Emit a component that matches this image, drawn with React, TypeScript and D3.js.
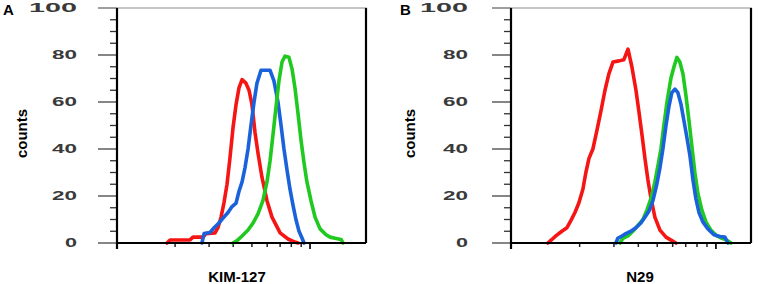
import React from "react";
import * as d3 from "d3";

// x values are log10 fluorescence intensity, y values are counts
const kimRed: [number, number][] = [
  [0.259, 0], [0.275, 1.3], [0.378, 1.3], [0.394, 2.5], [0.446, 2.5], [0.461, 4], [0.508, 4.3],
  [0.523, 6.5], [0.539, 11], [0.554, 17], [0.57, 25], [0.585, 36], [0.601, 49], [0.617, 59],
  [0.632, 66], [0.648, 69.5], [0.668, 68], [0.684, 65], [0.699, 59], [0.715, 47], [0.731, 38],
  [0.751, 28], [0.777, 18], [0.803, 11], [0.845, 4.3], [0.886, 1.7], [0.922, 0.4], [0.938, 0],
];
const kimBlue: [number, number][] = [
  [0.44, 0], [0.451, 4], [0.482, 4.5], [0.503, 6.5], [0.528, 8.5], [0.554, 11], [0.575, 13],
  [0.596, 15.5], [0.617, 17], [0.632, 22], [0.648, 26], [0.663, 32], [0.679, 40], [0.694, 50],
  [0.71, 60], [0.725, 68], [0.746, 73.5], [0.793, 73.5], [0.813, 69], [0.834, 60], [0.85, 50],
  [0.865, 40], [0.881, 31], [0.896, 23], [0.912, 16], [0.927, 10], [0.943, 5], [0.959, 2], [0.969, 0],
];
const kimGreen: [number, number][] = [
  [0.601, 0], [0.622, 1], [0.648, 3], [0.679, 5.5], [0.705, 8.5], [0.731, 12.5], [0.756, 18],
  [0.777, 26], [0.793, 35], [0.808, 46], [0.824, 58], [0.839, 69], [0.855, 77], [0.87, 79.5],
  [0.891, 79], [0.907, 74], [0.922, 66], [0.938, 55], [0.953, 44], [0.969, 34], [0.984, 26],
  [1.005, 18], [1.026, 11], [1.052, 6], [1.083, 3.5], [1.104, 2.5], [1.13, 2], [1.161, 1.5], [1.171, 0],
];

const n29Red: [number, number][] = [
  [0.138, 0], [0.159, 1.5], [0.179, 3], [0.21, 5], [0.236, 6.5], [0.256, 9.5], [0.277, 13],
  [0.297, 17], [0.318, 23], [0.333, 30], [0.349, 36], [0.369, 40], [0.39, 48], [0.41, 56],
  [0.431, 65], [0.451, 72], [0.472, 77], [0.503, 77.5], [0.528, 78], [0.549, 82.5], [0.569, 75],
  [0.59, 65], [0.605, 56], [0.621, 46], [0.636, 36], [0.651, 27], [0.667, 19], [0.687, 11],
  [0.713, 5.5], [0.744, 2.5], [0.774, 1], [0.795, 0],
];
const n29Blue: [number, number][] = [
  [0.487, 0], [0.497, 2], [0.518, 3], [0.538, 4], [0.564, 5], [0.59, 6.5], [0.615, 8.5],
  [0.636, 11], [0.656, 13.5], [0.677, 18], [0.697, 25], [0.713, 32], [0.728, 40], [0.744, 50],
  [0.759, 58], [0.774, 64], [0.79, 65.5], [0.805, 64], [0.821, 59], [0.836, 52], [0.851, 45],
  [0.867, 37], [0.882, 27], [0.897, 19], [0.913, 13], [0.933, 9], [0.959, 6], [0.99, 3.5],
  [1.021, 2.8], [1.046, 2.5], [1.062, 0],
];
const n29Green: [number, number][] = [
  [0.508, 0], [0.523, 2], [0.549, 3], [0.574, 5], [0.6, 7.5], [0.626, 10], [0.646, 14],
  [0.667, 19], [0.687, 26], [0.703, 33], [0.718, 40], [0.733, 50], [0.749, 60], [0.769, 70],
  [0.785, 75], [0.8, 79], [0.815, 77], [0.831, 72], [0.846, 63], [0.862, 52], [0.877, 41],
  [0.892, 30], [0.908, 21], [0.928, 14], [0.949, 9], [0.974, 5.5], [1.005, 3], [1.031, 2],
  [1.056, 1.2], [1.077, 0],
];

const yTicks = [0, 20, 40, 60, 80, 100];
const yTickLabels = ["0", "20", "40", "60", "80", "100"];
const yMinorTicks = d3.range(0, 101, 5).filter((v) => v % 20 !== 0);
const xMinorTicks = [2, 3, 4, 5, 6, 7, 8, 9].map((k) => Math.log10(k));
const xMajorTicks = [1];

const RED = "#f51515";
const GREEN = "#20c920";
const BLUE = "#1a62dc";

type Series = { data: [number, number][]; color: string };

interface PanelProps {
  letter: string;
  title: string;
  left: number;
  right: number;
  top: number;
  bottom: number;
  xDomain: [number, number];
  series: Series[];
  letterX: number;
  labelEnd: number;
  countsX: number;
  titleX: number;
}

const labelWidth = (s: string) => (s.length === 1 ? 12 : s.length === 2 ? 25 : 48);

function Panel(p: PanelProps) {
  const x = d3.scaleLinear().domain(p.xDomain).range([p.left, p.right]);
  const y = d3.scaleLinear().domain([0, 100]).range([p.bottom, p.top]);
  const line = d3
    .line<[number, number]>()
    .x((d) => x(d[0]))
    .y((d) => y(d[1]));
  const font = "'Liberation Sans', Arial, sans-serif";
  return (
    <g>
      <text x={p.letterX} y={15} fontFamily={font} fontWeight="bold" fontSize={15} fill="#000">
        {p.letter}
      </text>
      {/* top frame (gray) */}
      <line x1={p.left - 19} x2={p.right + 1} y1={p.top} y2={p.top} stroke="#8a8a8a" strokeWidth={1.2} />
      {/* y major ticks */}
      {yTicks.map((v) => (
        <line
          key={"ym" + v}
          x1={p.left - 19}
          x2={p.left}
          y1={y(v)}
          y2={y(v)}
          stroke={v === 100 ? "#8a8a8a" : "#444"}
          strokeWidth={1.3}
        />
      ))}
      {yMinorTicks.map((v) => (
        <line key={"yn" + v} x1={p.left - 7} x2={p.left} y1={y(v)} y2={y(v)} stroke="#333" strokeWidth={1.3} />
      ))}
      {yTicks.map((v, i) => (
        <text
          key={"yl" + v}
          x={p.labelEnd}
          y={y(v)}
          dy="0.36em"
          textAnchor="end"
          fontFamily={font}
          fontWeight="bold"
          fontSize={12}
          fill="#3a3a3a"
          textLength={labelWidth(yTickLabels[i])}
          lengthAdjust="spacingAndGlyphs"
        >
          {yTickLabels[i]}
        </text>
      ))}
      <text
        transform={`translate(${p.countsX},${(p.top + p.bottom) / 2 + 8}) rotate(-90)`}
        textAnchor="middle"
        fontFamily={font}
        fontWeight="bold"
        fontSize={15}
        fill="#000"
      >
        counts
      </text>
      {/* x ticks */}
      {xMinorTicks.map((v, i) => (
        <line key={"xn" + i} x1={x(v)} x2={x(v)} y1={p.bottom} y2={p.bottom + 4} stroke="#222" strokeWidth={1.5} />
      ))}
      {xMajorTicks.map((v, i) => (
        <line key={"xm" + i} x1={x(v)} x2={x(v)} y1={p.bottom} y2={p.bottom + 6} stroke="#111" strokeWidth={1.8} />
      ))}
      {/* curves */}
      {p.series.map((s, i) => (
        <path
          key={"s" + i}
          d={line(s.data) || ""}
          fill="none"
          stroke={s.color}
          strokeWidth={3.6}
          strokeLinejoin="round"
          strokeLinecap="round"
        />
      ))}
      {/* axes */}
      <line x1={p.left} x2={p.right} y1={p.bottom} y2={p.bottom} stroke="#000" strokeWidth={2} />
      <line x1={p.left} x2={p.left} y1={p.top} y2={p.bottom + 6} stroke="#000" strokeWidth={2.2} />
      <line x1={p.right} x2={p.right} y1={p.top} y2={p.bottom} stroke="#000" strokeWidth={2.2} />
      <text
        x={p.titleX}
        y={282}
        textAnchor="middle"
        fontFamily={font}
        fontWeight="bold"
        fontSize={15}
        fill="#000"
      >
        {p.title}
      </text>
    </g>
  );
}

export default function App() {
  return (
    <svg
      width={758}
      height={284}
      viewBox="0 0 758 284"
      style={{ position: "absolute", left: 0, top: 0, display: "block", background: "#fff" }}
    >
      <rect width={758} height={284} fill="#fff" />
      <Panel
        letter="A"
        title="KIM-127"
        left={117}
        right={366}
        top={8}
        bottom={243}
        xDomain={[0, 1.29]}
        series={[
          { data: kimRed, color: RED },
          { data: kimBlue, color: BLUE },
          { data: kimGreen, color: GREEN },
        ]}
        letterX={3}
        labelEnd={77}
        countsX={27}
        titleX={237}
      />
      <Panel
        letter="B"
        title="N29"
        left={511}
        right={751}
        top={8}
        bottom={243}
        xDomain={[-0.051, 1.18]}
        series={[
          { data: n29Red, color: RED },
          { data: n29Green, color: GREEN },
          { data: n29Blue, color: BLUE },
        ]}
        letterX={400}
        labelEnd={468}
        countsX={415}
        titleX={640}
      />
    </svg>
  );
}
